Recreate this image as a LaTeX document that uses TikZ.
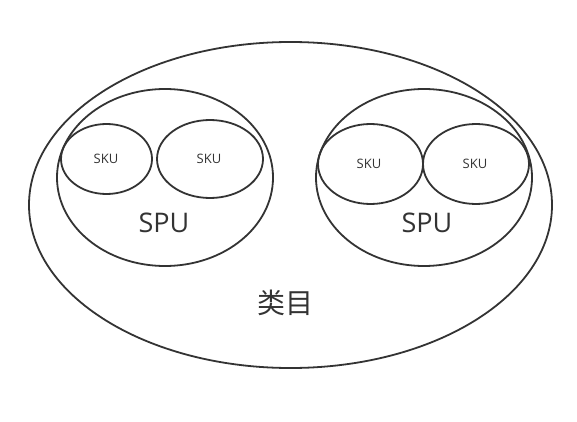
\documentclass[tikz,border=0pt]{standalone}
\usepackage{fontspec}
\setmainfont{Open Sans}
\newfontfamily\cjk{Noto Sans CJK SC}
\definecolor{ln}{HTML}{333333}
\begin{document}
\begin{tikzpicture}[x=1pt,y=-1pt,
  ring/.style={draw=ln,line width=1.8pt},
  lbl/.style={text=ln,inner sep=0pt}]
\useasboundingbox (0,0) rectangle (577,422);
\draw[ring] (290.5,205) ellipse [x radius=261.5, y radius=163];
\draw[ring] (165,177.5) ellipse [x radius=108, y radius=88.5];
\draw[ring] (424,177.5) ellipse [x radius=108, y radius=88.5];
\draw[ring] (106.5,159) ellipse [x radius=45.5, y radius=35];
\draw[ring] (210,159) ellipse [x radius=53, y radius=39];
\draw[ring] (370.5,164) ellipse [x radius=52.5, y radius=40];
\draw[ring] (476,164) ellipse [x radius=53, y radius=40];
\node[lbl,font=\fontsize{13}{15}\selectfont] (k1) at (106,159) {SKU};
\node[lbl,font=\fontsize{13}{15}\selectfont] (k2) at (209,159) {SKU};
\node[lbl,font=\fontsize{13}{15}\selectfont] (k3) at (369,164) {SKU};
\node[lbl,font=\fontsize{13}{15}\selectfont] (k4) at (475,164) {SKU};
\node[lbl,font=\fontsize{27}{30}\selectfont] (p1) at (164,223) {SPU};
\node[lbl,font=\fontsize{27}{30}\selectfont] (p2) at (427,223) {SPU};
\node[lbl,font=\cjk\fontsize{28}{31}\selectfont] (c) at (285,303) {类目};
\end{tikzpicture}
\end{document}
